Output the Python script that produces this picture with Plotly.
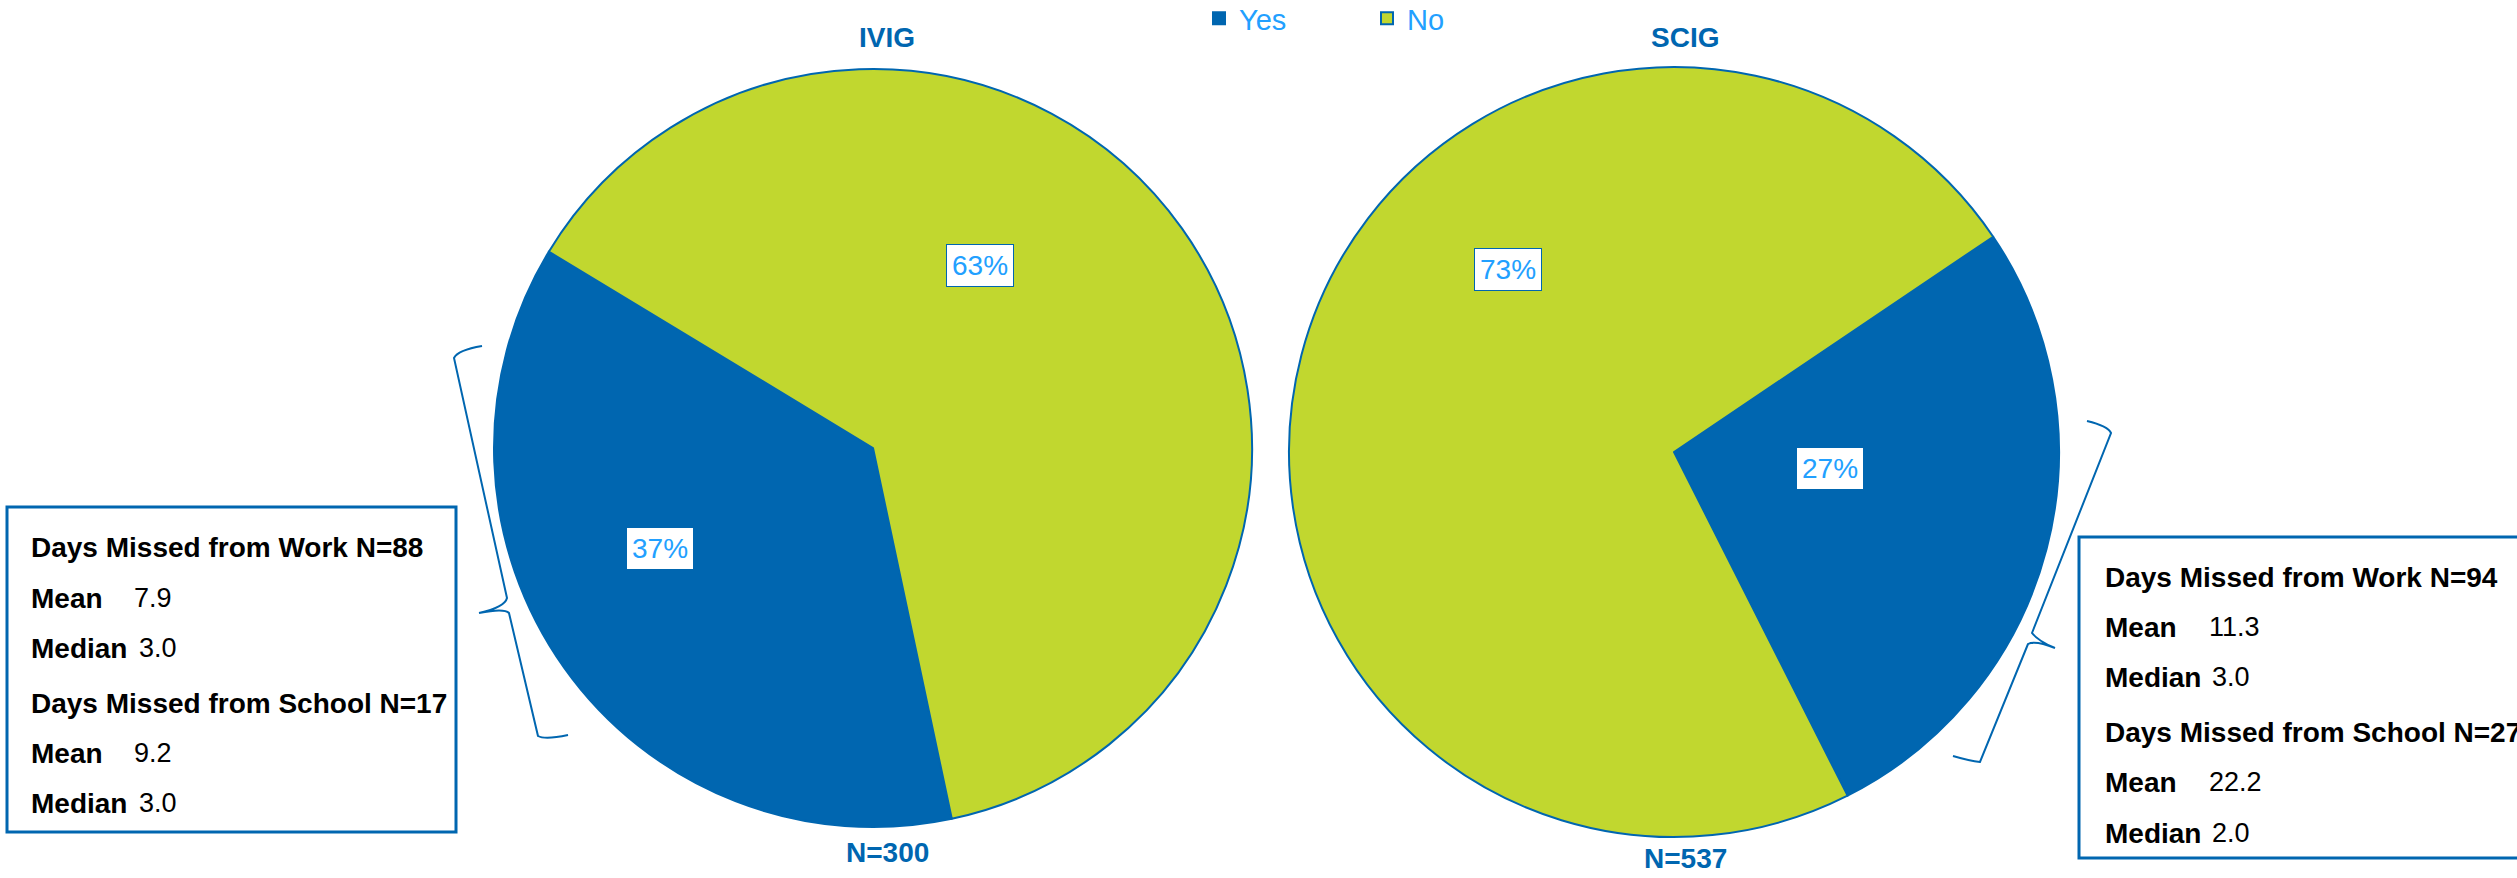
import plotly.graph_objects as go

W, H = 2517, 878

# ---------------- data ----------------
labels = ["Yes", "No"]
groups = ["IVIG", "SCIG"]
ivig_values = [37, 63]
scig_values = [27, 73]
group_n = [300, 537]
work_n = [88, 94]
work_mean = [7.9, 11.3]
work_median = [3.0, 3.0]
school_n = [17, 27]
school_mean = [9.2, 22.2]
school_median = [3.0, 2.0]

# ---------------- style ----------------
BLUE = "#0066B0"
GREEN = "#C1D72F"
LIGHT = "#22A0FF"
FONT = "Liberation Sans, Arial, sans-serif"


def px(x):
    return x / W


def py(y):
    return 1 - y / H


fig = go.Figure()

pie_geo = [
    dict(x0=494, x1=1252, y0=69, y1=827, rot=168),
    dict(x0=1289, x1=2059, y0=67, y1=837, rot=56),
]
for name, vals, g in zip(groups, [ivig_values, scig_values], pie_geo):
    fig.add_trace(go.Pie(
        name=name, labels=labels, values=vals, sort=False,
        direction="clockwise", rotation=g["rot"],
        marker=dict(colors=[BLUE, GREEN], line=dict(color=BLUE, width=2)),
        textinfo="none", hoverinfo="label+percent",
        domain=dict(x=[px(g["x0"]), px(g["x1"])], y=[py(g["y1"]), py(g["y0"])]),
    ))

annotations = []

# percent labels
pct_pos = [[(660, 548), (980, 265)], [(1830, 469), (1508, 269)]]
for vals, poss in zip([ivig_values, scig_values], pct_pos):
    tot = sum(vals)
    for v, (x, y) in zip(vals, poss):
        annotations.append(dict(
            x=px(x), y=py(y), xref="paper", yref="paper", showarrow=False,
            text=f"{v / tot * 100:.0f}%", font=dict(family=FONT, size=28, color=LIGHT),
            bgcolor="white", bordercolor=BLUE, borderwidth=1, borderpad=5,
            xanchor="center", yanchor="middle"))

# titles and N labels
title_pos = [(887, 37, 852), (1685, 37, 858)]
for gname, n, (x, yt, yb) in zip(groups, group_n, title_pos):
    annotations.append(dict(x=px(x), y=py(yt), xref="paper", yref="paper", showarrow=False,
                            text=f"<b>{gname}</b>", font=dict(family=FONT, size=28, color=BLUE),
                            xanchor="center", yanchor="middle"))
    annotations.append(dict(x=px(x), y=py(yb), xref="paper", yref="paper", showarrow=False,
                            text=f"<b>N={n}</b>", font=dict(family=FONT, size=28, color=BLUE),
                            xanchor="center", yanchor="middle"))

# stats boxes
box_geo = [
    dict(bx0=7, by0=507, bx1=456, by1=832, tx=29, ys=[547, 598, 648, 703, 753, 803], vmean=132, vmed=137),
    dict(bx0=2079, by0=537, bx1=2545, by1=858, tx=2103, ys=[577, 627, 677, 732, 782, 833], vmean=2207, vmed=2210),
]
shapes = []
for i, g in enumerate(box_geo):
    shapes.append(dict(type="rect", xref="paper", yref="paper",
                       x0=px(g["bx0"]), x1=px(g["bx1"]), y0=py(g["by1"]), y1=py(g["by0"]),
                       line=dict(color=BLUE, width=3), fillcolor="rgba(0,0,0,0)"))
    rows = [
        (f"<b>Days Missed from Work N={work_n[i]}</b>", None, None),
        ("<b>Mean</b>", f"{work_mean[i]:.1f}", g["vmean"]),
        ("<b>Median</b>", f"{work_median[i]:.1f}", g["vmed"]),
        (f"<b>Days Missed from School N={school_n[i]}</b>", None, None),
        ("<b>Mean</b>", f"{school_mean[i]:.1f}", g["vmean"]),
        ("<b>Median</b>", f"{school_median[i]:.1f}", g["vmed"]),
    ]
    for (lab, val, vx), y in zip(rows, g["ys"]):
        annotations.append(dict(x=px(g["tx"]), y=py(y), xref="paper", yref="paper", showarrow=False,
                                text=lab, font=dict(family=FONT, size=28, color="black"),
                                xanchor="left", yanchor="middle"))
        if val is not None:
            annotations.append(dict(x=px(vx), y=py(y), xref="paper", yref="paper", showarrow=False,
                                    text=val, font=dict(family=FONT, size=27, color="black"),
                                    xanchor="left", yanchor="middle"))


# braces
def path(cmds):
    out = []
    for c in cmds:
        op, pts = c[0], c[1:]
        out.append(op + " ".join(f"{px(x):.5f},{py(y):.5f}" for x, y in pts))
    return " ".join(out)


brace_left = [("M", (482, 346)), ("Q", (458, 350), (454, 358)), ("L", (507, 598)),
              ("Q", (505, 607), (479, 613)), ("Q", (504, 608), (509, 613)), ("L", (538, 736)),
              ("Q", (545, 740), (568, 735))]
brace_right = [("M", (2087, 421)), ("Q", (2108, 426), (2111, 433)), ("L", (2032, 633)),
               ("Q", (2038, 641), (2055, 648)), ("Q", (2035, 640), (2028, 644)), ("L", (1980, 762)),
               ("Q", (1970, 761), (1953, 756))]
for b in (brace_left, brace_right):
    shapes.append(dict(type="path", xref="paper", yref="paper", path=path(b),
                       line=dict(color=BLUE, width=2)))

fig.update_layout(
    width=W, height=H,
    margin=dict(l=0, r=0, t=0, b=0, autoexpand=False),
    paper_bgcolor="white", plot_bgcolor="white",
    showlegend=True,
    legend=dict(orientation="h", x=px(1199), xanchor="left", y=1.008, yanchor="top",
                font=dict(family=FONT, size=29, color=LIGHT),
                entrywidth=123, entrywidthmode="pixels", bgcolor="rgba(0,0,0,0)"),
    annotations=annotations,
    shapes=shapes,
)

fig.write_html("out.html", config={"displayModeBar": False},
               post_script="document.body.style.margin='0';")
